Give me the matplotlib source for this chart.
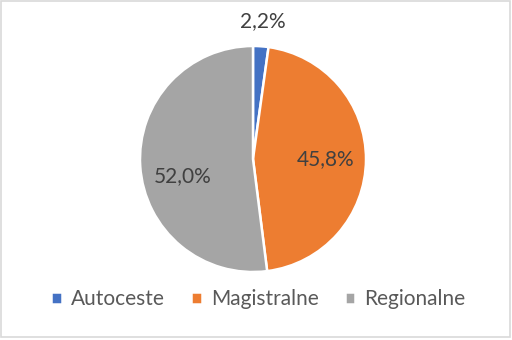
import numpy as np
import matplotlib
matplotlib.use("Agg")
import matplotlib.pyplot as plt
from matplotlib.patches import Rectangle

categories = ["Autoceste", "Magistralne", "Regionalne"]
values = [2.2, 45.8, 52.0]
labels = ["2,2%", "45,8%", "52,0%"]
colors = ["#4472C4", "#ED7D31", "#A5A5A5"]

W, H = 512, 340
fig = plt.figure(figsize=(W / 100, H / 100), dpi=100)
fig.patch.set_facecolor("white")
fig.patches.append(Rectangle((0.5 / W, 3.5 / H), (W - 3) / W, (H - 4.5) / H,
                             transform=fig.transFigure, fill=False,
                             edgecolor="#D9D9D9", linewidth=1.2))

cx, cy, r = 253, 159, 113
ax = fig.add_axes([(cx - r) / W, (H - cy - r) / H, 2 * r / W, 2 * r / H])
wedges, _ = ax.pie(values, colors=colors, startangle=90, counterclock=False,
                   wedgeprops=dict(edgecolor="white", linewidth=1.8))
ax.set_xlim(-1, 1)
ax.set_ylim(-1, 1)
ax.set_aspect("equal")
ax.axis("off")

font = "Lato"
dists = [1.22, 0.64, 0.64]
offsets = [0, 0, 10]
for w, lab, d, off in zip(wedges, labels, dists, offsets):
    ang = np.deg2rad((w.theta1 + w.theta2) / 2 + off)
    ax.text(d * np.cos(ang), d * np.sin(ang), lab, ha="center", va="center",
            fontsize=15, color="#404040", family=font, clip_on=False)

leg = fig.legend(wedges, categories, loc="center", bbox_to_anchor=(0.505, (H - 299) / H),
                 ncol=3, frameon=False, handlelength=0.5, handleheight=0.5,
                 handletextpad=0.45, columnspacing=1.25,
                 prop=dict(family=font, size=15))
for t in leg.get_texts():
    t.set_color("#595959")

fig.savefig("out.png", dpi=100)
